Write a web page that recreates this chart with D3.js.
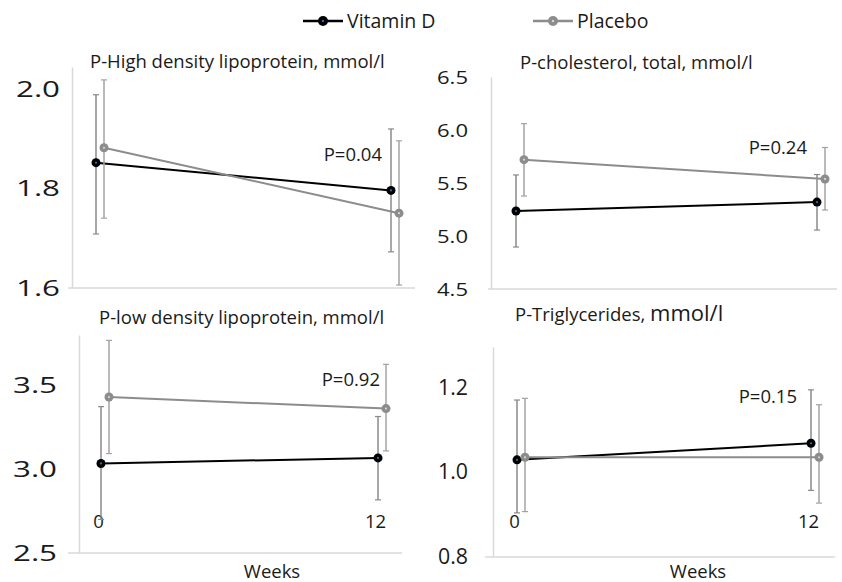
<!DOCTYPE html>
<html>
<head>
<meta charset="utf-8">
<script src="https://cdnjs.cloudflare.com/ajax/libs/d3/7.8.5/d3.min.js"></script>
<style>
  body { margin: 0; background: #fff; }
  text { font-family: "Open Sans", sans-serif; fill: #1a1a1a; }
</style>
</head>
<body>
<script>
var w = 842,
    h = 582;

// weeks of follow-up
var weeks = [0, 12];
var seriesNames = ["Vitamin D", "Placebo"];

// P-High density lipoprotein
var hdlVitD = [1.853, 1.797];
var hdlVitDLow = [1.709, 1.673];
var hdlVitDHigh = [1.990, 1.921];
var hdlPlacebo = [1.883, 1.751];
var hdlPlaceboLow = [1.741, 1.606];
var hdlPlaceboHigh = [2.020, 1.897];

// P-cholesterol, total
var cholVitD = [5.236, 5.320];
var cholVitDLow = [4.896, 5.056];
var cholVitDHigh = [5.576, 5.580];
var cholPlacebo = [5.720, 5.538];
var cholPlaceboLow = [5.377, 5.245];
var cholPlaceboHigh = [6.060, 5.835];

// P-low density lipoprotein
var ldlVitD = [3.034, 3.067];
var ldlVitDLow = [2.700, 2.817];
var ldlVitDHigh = [3.373, 3.314];
var ldlPlacebo = [3.430, 3.361];
var ldlPlaceboLow = [3.093, 3.109];
var ldlPlaceboHigh = [3.768, 3.625];

// P-Triglycerides
var tgVitD = [1.029, 1.068];
var tgVitDLow = [0.904, 0.957];
var tgVitDHigh = [1.170, 1.194];
var tgPlacebo = [1.035, 1.035];
var tgPlaceboLow = [0.907, 0.927];
var tgPlaceboHigh = [1.174, 1.159];

// y tick labels and p-values
var hdlTicks = [1.6, 1.8, 2.0];
var cholTicks = [4.5, 5.0, 5.5, 6.0, 6.5];
var ldlTicks = [2.5, 3.0, 3.5];
var tgTicks = [0.8, 1.0, 1.2];
var pValues = ["P=0.04", "P=0.24", "P=0.92", "P=0.15"];

var colors = { "Vitamin D": "#000", "Placebo": "#8c8c8c" };
var barColors = { "Vitamin D": "#8a8a8a", "Placebo": "#a3a3a3" };
var centerDot = { "Vitamin D": "#2a6fb5", "Placebo": "#d6d6d6" };

function makeSeries(mean, low, high) {
    return weeks.map(function (wk, i) {
        return { week: wk, v: mean[i], lo: low[i], hi: high[i] };
    });
}

// layout of the four panels
var panels = [
    { title: "P-High density lipoprotein, mmol/l", titleX: 90, titleY: 62,
      domain: [1.6, 2.046], yRange: [288, 67], axisX: 72, base: [68, 415],
      xRange: [96, 391], ticks: hdlTicks, tickFont: 22, tickW: 44, tickGap: 12,
      p: pValues[0], pX: 382, pY: 155, showWeeks: false,
      data: [makeSeries(hdlVitD, hdlVitDLow, hdlVitDHigh), makeSeries(hdlPlacebo, hdlPlaceboLow, hdlPlaceboHigh)] },
    { title: "P-cholesterol, total, mmol/l", titleX: 520, titleY: 63,
      domain: [4.5, 6.5], yRange: [289, 77], axisX: 491, base: [488, 837],
      xRange: [516, 817], ticks: cholTicks, tickFont: 19, tickW: 31, tickGap: 23,
      p: pValues[1], pX: 807, pY: 148, showWeeks: false,
      data: [makeSeries(cholVitD, cholVitDLow, cholVitDHigh), makeSeries(cholPlacebo, cholPlaceboLow, cholPlaceboHigh)] },
    { title: "P-low density lipoprotein, mmol/l", titleX: 99, titleY: 318,
      domain: [2.5, 3.8], yRange: [553, 335], axisX: 79, base: [68, 402],
      xRange: [101, 378], ticks: ldlTicks, tickFont: 22, tickW: 44, tickGap: 22,
      p: pValues[2], pX: 380, pY: 380, showWeeks: true, weeksX: 272,
      data: [makeSeries(ldlVitD, ldlVitDLow, ldlVitDHigh), makeSeries(ldlPlacebo, ldlPlaceboLow, ldlPlaceboHigh)] },
    { title: "P-Triglycerides, ", titleBig: "mmol/l", titleX: 515, titleY: 315,
      domain: [0.8, 1.295], yRange: [557, 347], axisX: 493, base: [485, 835],
      xRange: [517, 811], ticks: tgTicks, tickFont: 21, tickW: 30, tickGap: 25,
      p: pValues[3], pX: 797, pY: 397, showWeeks: true, weeksX: 698,
      data: [makeSeries(tgVitD, tgVitDLow, tgVitDHigh), makeSeries(tgPlacebo, tgPlaceboLow, tgPlaceboHigh)] }
];

var mySVG = d3.select("body")
    .append("svg")
    .attr("width", w)
    .attr("height", h);

// legend
var legendX = [303, 533];
seriesNames.forEach(function (name, i) {
    var g = mySVG.append("g").attr("transform", "translate(" + legendX[i] + ",21)");
    g.append("line").attr("x1", 0).attr("x2", 40).attr("y1", 0).attr("y2", 0)
        .attr("stroke", colors[name]).attr("stroke-width", 2.5);
    g.append("circle").attr("cx", 20).attr("cy", 0).attr("r", 5).attr("fill", colors[name]);
    g.append("circle").attr("cx", 20).attr("cy", 0).attr("r", 1.2).attr("fill", centerDot[name]);
    g.append("text").attr("x", 44).attr("y", 0).attr("dy", "0.35em")
        .attr("font-size", 19.5).text(name);
});

panels.forEach(function (p) {
    var g = mySVG.append("g");
    var y = d3.scaleLinear().domain(p.domain).range(p.yRange);
    var x = d3.scaleLinear().domain([0, 12]).range(p.xRange);
    // small dodge between the two series, like the original
    var dodge = d3.scalePoint().domain(seriesNames).range([0, 8]);

    // baseline
    g.append("line")
        .attr("x1", p.base[0]).attr("x2", p.base[1])
        .attr("y1", y(p.domain[0])).attr("y2", y(p.domain[0]))
        .attr("stroke", "#d9d9d9").attr("stroke-width", 1.5);

    // y axis
    var yAxis = d3.axisLeft(y).tickValues(p.ticks)
        .tickSize(0).tickSizeOuter(0).tickPadding(p.tickGap)
        .tickFormat(d3.format(".1f"));
    var ax = g.append("g").attr("transform", "translate(" + p.axisX + ",0)").call(yAxis);
    ax.select(".domain").attr("stroke", "#d9d9d9").attr("stroke-width", 1.5);
    ax.selectAll("text")
        .attr("font-family", "Open Sans, sans-serif")
        .attr("font-size", p.tickFont)
        .attr("fill", "#1a1a1a")
        .attr("textLength", p.tickW)
        .attr("lengthAdjust", "spacingAndGlyphs");

    // title
    var t = g.append("text").attr("x", p.titleX).attr("y", p.titleY)
        .attr("dy", "0.35em").attr("font-size", 18.5).text(p.title);
    if (p.titleBig) {
        t.append("tspan").attr("font-size", 22).text(p.titleBig);
    }

    // p-value
    g.append("text").attr("x", p.pX).attr("y", p.pY).attr("dy", "0.35em")
        .attr("text-anchor", "end").attr("font-size", 18.5).text(p.p);

    // x axis labels (weeks) on bottom panels only
    if (p.showWeeks) {
        var xAxis = d3.axisBottom(x).tickValues(weeks).tickSize(0).tickPadding(0);
        var xa = g.append("g").attr("transform", "translate(-3,515)").call(xAxis);
        xa.select(".domain").remove();
        xa.selectAll("text")
            .attr("font-family", "Open Sans, sans-serif")
            .attr("font-size", 18.5).attr("fill", "#1a1a1a");
        g.append("text").attr("x", p.weeksX).attr("y", 572).attr("dy", "0.35em")
            .attr("text-anchor", "middle").attr("font-size", 18.5).text("Weeks");
    }

    var line = d3.line()
        .x(function (d) { return x(d.week); })
        .y(function (d) { return y(d.v); });

    p.data.forEach(function (series, si) {
        var name = seriesNames[si];
        var sg = g.append("g").attr("transform", "translate(" + dodge(name) + ",0)");

        // error bars
        var bars = sg.selectAll(".err").data(series).enter().append("g");
        bars.append("line")
            .attr("x1", function (d) { return x(d.week); })
            .attr("x2", function (d) { return x(d.week); })
            .attr("y1", function (d) { return y(d.lo); })
            .attr("y2", function (d) { return y(d.hi); })
            .attr("stroke", barColors[name]).attr("stroke-width", 1.5);
        bars.selectAll(".cap")
            .data(function (d) { return [{ week: d.week, v: d.lo }, { week: d.week, v: d.hi }]; })
            .enter().append("line")
            .attr("x1", function (d) { return x(d.week) - 3; })
            .attr("x2", function (d) { return x(d.week) + 3; })
            .attr("y1", function (d) { return y(d.v); })
            .attr("y2", function (d) { return y(d.v); })
            .attr("stroke", barColors[name]).attr("stroke-width", 1.2);

        // series line
        sg.append("path").datum(series)
            .attr("d", line)
            .attr("fill", "none")
            .attr("stroke", colors[name])
            .attr("stroke-width", 2);

        // markers
        sg.selectAll(".pt").data(series).enter().append("circle")
            .attr("cx", function (d) { return x(d.week); })
            .attr("cy", function (d) { return y(d.v); })
            .attr("r", 4.5)
            .attr("fill", colors[name]);
        sg.selectAll(".dot").data(series).enter().append("circle")
            .attr("cx", function (d) { return x(d.week); })
            .attr("cy", function (d) { return y(d.v); })
            .attr("r", 1.1)
            .attr("fill", centerDot[name]);
    });
});
</script>
</body>
</html>
